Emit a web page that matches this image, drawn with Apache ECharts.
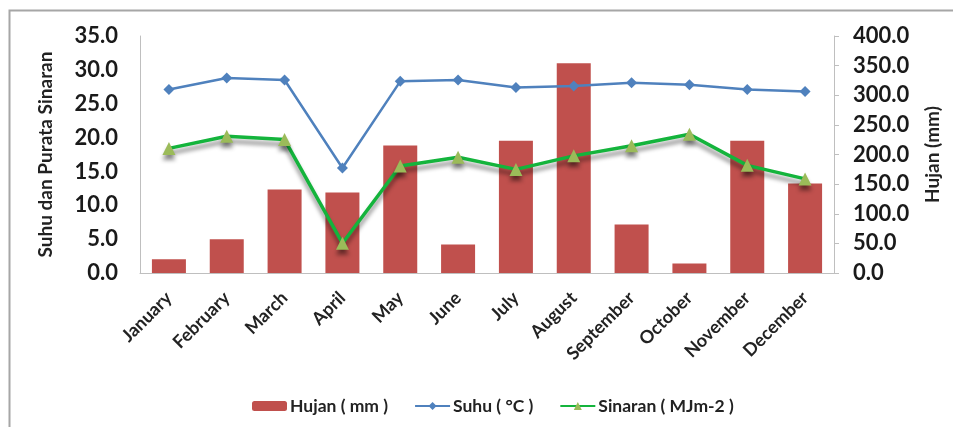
<!DOCTYPE html>
<html>
<head>
<meta charset="utf-8">
<script src="https://cdn.jsdelivr.net/npm/echarts@6/dist/echarts.min.js"></script>
<style>
  html, body { margin: 0; padding: 0; background: #fff; }
  #chart { width: 953px; height: 427px; }
</style>
</head>
<body>
<div id="chart"></div>
<script>
// Monthly climate data
const months = ['January', 'February', 'March', 'April', 'May', 'June', 'July', 'August', 'September', 'October', 'November', 'December'];
const hujan = [23, 57, 141, 136, 215, 48, 223, 354, 82, 16, 223, 151];          // rainfall, mm
const suhu = [27.1, 28.8, 28.5, 15.5, 28.3, 28.5, 27.4, 27.6, 28.1, 27.8, 27.1, 26.8]; // temperature, °C
const sinaran = [18.4, 20.2, 19.7, 4.4, 15.8, 17.1, 15.3, 17.3, 18.8, 20.5, 15.9, 13.9]; // radiation, MJm-2

const seriesNames = ['Hujan ( mm )', 'Suhu ( °C )', 'Sinaran ( MJm-2 )'];
const leftTitle = 'Suhu dan Purata Sinaran';
const rightTitle = 'Hujan (mm)';

const FONT = 'Lato, "Open Sans", sans-serif';
const chart = echarts.init(document.getElementById('chart'));

chart.setOption({
  animation: false,
  backgroundColor: '#ffffff',
  graphic: [{
    type: 'rect',
    shape: { x: 9.5, y: 10.5, width: 980, height: 440 },
    style: { fill: 'none', stroke: '#a6a6a6', lineWidth: 2 },
    silent: true
  }],
  grid: { left: 140, right: 119, top: 36, bottom: 154 },
  legend: {
    bottom: 7,
    left: 247,
    itemWidth: 35,
    itemHeight: 10,
    itemGap: 26,
    textStyle: { fontFamily: FONT, fontSize: 17.5, fontWeight: 'bold', color: '#222', padding: [0, 0, 0, -2] },
    data: seriesNames
  },
  xAxis: {
    type: 'category',
    data: months,
    axisLine: { lineStyle: { color: '#bfbfbf', width: 1 } },
    axisTick: { show: false },
    axisLabel: {
      rotate: 45,
      interval: 0,
      margin: 22,
      fontFamily: FONT,
      fontSize: 18,
      fontWeight: 'bold',
      color: '#222'
    }
  },
  yAxis: [{
    type: 'value',
    min: 0, max: 35, interval: 5,
    name: leftTitle,
    nameLocation: 'middle',
    nameGap: 85,
    nameTextStyle: { fontFamily: FONT, fontSize: 19, fontWeight: 'bold', color: '#222' },
    axisLine: { show: true, lineStyle: { color: '#bfbfbf' } },
    axisTick: { show: false },
    splitLine: { show: false },
    axisLabel: {
      formatter: v => v.toFixed(1),
      margin: 22,
      fontFamily: FONT, fontSize: 22, fontWeight: 'bold', color: '#1a1a1a'
    }
  }, {
    type: 'value',
    min: 0, max: 400, interval: 50,
    name: rightTitle,
    nameLocation: 'middle',
    nameGap: 89,
    nameRotate: 90,
    nameTextStyle: { fontFamily: FONT, fontSize: 19, fontWeight: 'bold', color: '#222' },
    axisLine: { show: true, lineStyle: { color: '#bfbfbf' } },
    axisTick: { show: true, length: 5, lineStyle: { color: '#bfbfbf' } },
    splitLine: { show: false },
    axisLabel: {
      formatter: v => v.toFixed(1),
      margin: 19,
      fontFamily: FONT, fontSize: 22, fontWeight: 'bold', color: '#1a1a1a'
    }
  }],
  series: [{
    name: seriesNames[0],
    type: 'bar',
    yAxisIndex: 1,
    data: hujan,
    barWidth: 34,
    itemStyle: { color: '#C0504D' }
  }, {
    name: seriesNames[1],
    type: 'line',
    yAxisIndex: 0,
    data: suhu,
    symbol: 'diamond',
    symbolSize: 11,
    lineStyle: { color: '#4F81BD', width: 2.5 },
    itemStyle: { color: '#4F81BD' }
  }, {
    name: seriesNames[2],
    type: 'line',
    yAxisIndex: 0,
    data: sinaran,
    symbol: 'triangle',
    symbolSize: 13,
    z: 3,
    lineStyle: {
      color: '#14B43C', width: 3.5,
      shadowColor: 'rgba(0,0,0,0.45)', shadowBlur: 4, shadowOffsetY: 5
    },
    itemStyle: {
      color: '#9BBB59',
      shadowColor: 'rgba(0,0,0,0.45)', shadowBlur: 4, shadowOffsetY: 5
    }
  }]
});
</script>
</body>
</html>
